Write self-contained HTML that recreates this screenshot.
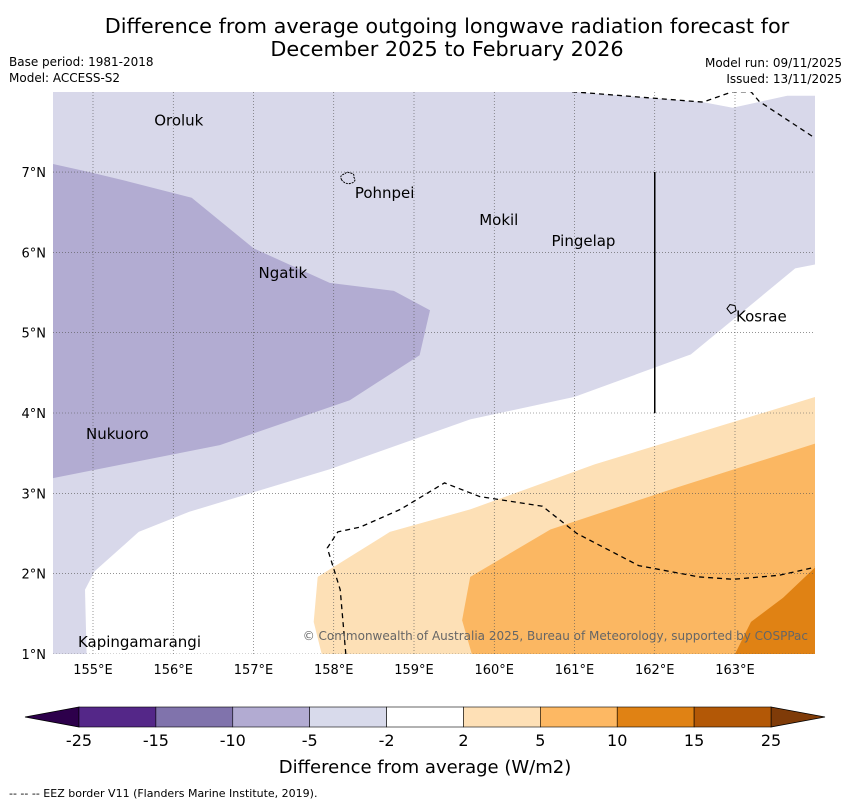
<!DOCTYPE html>
<html><head><meta charset="utf-8"><style>
body{margin:0;background:#fff;width:850px;height:804px;overflow:hidden;font-family:"DejaVu Sans","Liberation Sans",sans-serif}
svg{display:block}
</style></head><body>
<svg width="850" height="804" viewBox="0 0 850 804" font-family="DejaVu Sans, Liberation Sans, sans-serif">
<text x="447" y="33" font-size="20.8" text-anchor="middle">Difference from average outgoing longwave radiation forecast for</text>
<text x="447" y="56" font-size="20.8" text-anchor="middle">December 2025 to February 2026</text>
<text x="9" y="66" font-size="12">Base period: 1981-2018</text>
<text x="9" y="82" font-size="12">Model: ACCESS-S2</text>
<text x="842" y="67" font-size="12" text-anchor="end">Model run: 09/11/2025</text>
<text x="842" y="83" font-size="12" text-anchor="end">Issued: 13/11/2025</text>
<defs><clipPath id="mc"><rect x="53" y="92" width="762" height="562"/></clipPath></defs>
<g id="map" clip-path="url(#mc)"></g>
<g id="axes"></g>
<g id="cbar"></g>
<text x="425" y="773" font-size="18" text-anchor="middle">Difference from average (W/m2)</text>
<text x="9" y="797" font-size="11">--  --  -- EEZ border V11 (Flanders Marine Institute, 2019).</text>
</svg>
<script>
const lonTicks=[155,156,157,158,159,160,161,162,163];
const latTicks=[1,2,3,4,5,6,7];
const cbLevels=[-25,-15,-10,-5,-2,2,5,10,15,25];
const cbColors=["#542788","#8073ac","#b2abd2","#d8daeb","#ffffff","#fee0b6","#fdb863","#e08214","#b35806"];
const islands=[["Oroluk",155.8,7.64],["Pohnpei",158.3,6.74],["Mokil",159.85,6.4],["Pingelap",160.75,6.14],["Ngatik",157.1,5.74],["Kosrae",163.05,5.2],["Nukuoro",154.95,3.74],["Kapingamarangi",154.85,1.15]];
const zoneLav=[[154.5,8],[160.97,8],[161.97,7.92],[162.6,7.87],[162.97,7.8],[163.65,7.95],[164,7.95],[164,5.85],[163.75,5.8],[162.45,4.73],[161.0,4.2],[159.7,3.92],[157.95,3.3],[156.2,2.77],[155.57,2.52],[155.02,2.03],[154.9,1.8],[154.92,1],[154.5,1]];
const zoneMed=[[154.5,7.1],[154.95,7.0],[155.45,6.88],[156.23,6.68],[157.0,6.05],[157.95,5.62],[158.75,5.52],[159.2,5.28],[159.07,4.72],[158.2,4.16],[156.58,3.6],[154.5,3.19]];
const zoneOr1=[[157.8,1.96],[158.7,2.52],[159.7,2.8],[161.25,3.36],[164,4.2],[164,1],[157.85,1],[157.75,1.4]];
const zoneOr2=[[159.7,1.96],[160.7,2.55],[162.3,3.08],[164,3.62],[164,1],[159.72,1],[159.6,1.42]];
const zoneOr3=[[164,2.08],[163.6,1.7],[163.2,1.4],[163.0,1],[164,1]];
const eezA=[[158.15,1],[158.08,1.8],[157.92,2.32],[158.05,2.52],[158.33,2.58],[158.83,2.8],[159.38,3.13],[159.82,2.96],[160.6,2.84],[161.03,2.5],[161.8,2.1],[162.55,1.96],[162.98,1.93],[163.55,1.98],[164,2.08]];
const eezB=[[160.97,8],[161.97,7.92],[162.6,7.87],[162.97,8],[163.2,8],[163.3,7.88],[164,7.42]];
const NS="http://www.w3.org/2000/svg";
const X=lon=>93+(lon-155)*80.25, Y=lat=>654-(lat-1)*80.33;
function mk(t,a,p){const e=document.createElementNS(NS,t);for(const k in a)e.setAttribute(k,a[k]);p.appendChild(e);return e;}
const map=document.getElementById('map'),axes=document.getElementById('axes'),cb=document.getElementById('cbar');
const pts=z=>z.map(p=>X(p[0]).toFixed(1)+','+Y(p[1]).toFixed(1)).join(' ');
let r=mk('rect',{x:53,y:92,width:762,height:562,fill:'#fff'},map);

[[zoneLav,'#d8d8ea','zone-minus5'],[zoneMed,'#b2acd2','zone-minus10'],[zoneOr1,'#fde0b6','zone-plus2'],[zoneOr2,'#fbb762','zone-plus5'],[zoneOr3,'#e08214','zone-plus10']].forEach(z=>{
 const e=mk('polygon',{points:pts(z[0]),fill:z[1]},map);
 
 
});
lonTicks.forEach(l=>{const e=mk('line',{x1:X(l),x2:X(l),y1:92,y2:654,stroke:'#555',"stroke-width":0.6,"stroke-dasharray":"1,2"},map);
 
 const t=mk('text',{x:X(l),y:674,"font-size":13,"text-anchor":"middle"},axes);t.textContent=l+'°E';
 });
latTicks.forEach(l=>{const e=mk('line',{x1:53,x2:815,y1:Y(l),y2:Y(l),stroke:'#555',"stroke-width":0.6,"stroke-dasharray":"1,2"},map);
 
 const t=mk('text',{x:46,y:Y(l)+5,"font-size":13,"text-anchor":"end"},axes);t.textContent=l+'°N';
 });
[eezA,eezB].forEach(z=>{const e=mk('polyline',{points:pts(z),fill:'none',stroke:'#000',"stroke-width":1.3,"stroke-dasharray":"5,4"},map);
 });
let vl=mk('line',{x1:X(162),x2:X(162),y1:Y(7),y2:Y(4),stroke:'#000',"stroke-width":1.5},map);

let pi=mk('path',{d:`M${X(158.1)},${Y(6.9)} q-3,-5 3,-6 q2,-3 5,-1 q5,0 4,4 q3,4 -2,6 q-6,2 -10,-3z`,fill:'none',stroke:'#000',"stroke-width":1,"stroke-dasharray":"2,1"},map);

let ko=mk('path',{d:`M${X(162.9)},${Y(5.3)} l3,-4 l5,1 l1,5 l-5,3z`,fill:'none',stroke:'#000',"stroke-width":1},map);

islands.forEach(s=>{const t=mk('text',{x:X(s[1])-3,y:Y(s[2])+5,"font-size":15},map);t.textContent=s[0];
 });
let cp=mk('text',{x:808,y:640,"font-size":12,"text-anchor":"end",fill:'#666'},map);cp.textContent='© Commonwealth of Australia 2025, Bureau of Meteorology, supported by COSPPac';

const cx0=79,cx1=771,cy0=707,cy1=727,seg=(cx1-cx0)/cbColors.length;
let la=mk('polygon',{points:`${cx0},${cy0} 25,717 ${cx0},${cy1}`,fill:'#2d004b',stroke:'#000',"stroke-width":0.8},cb);

let ra=mk('polygon',{points:`${cx1},${cy0} 825,717 ${cx1},${cy1}`,fill:'#7f3b08',stroke:'#000',"stroke-width":0.8},cb);

cbColors.forEach((c,i)=>{const e=mk('rect',{x:cx0+i*seg,y:cy0,width:seg,height:cy1-cy0,fill:c,stroke:'#000',"stroke-width":0.6},cb);
 });
cbLevels.forEach((v,i)=>{const t=mk('text',{x:cx0+i*seg,y:746,"font-size":16,"text-anchor":"middle"},cb);t.textContent=v;
 });
</script>
</body></html>
